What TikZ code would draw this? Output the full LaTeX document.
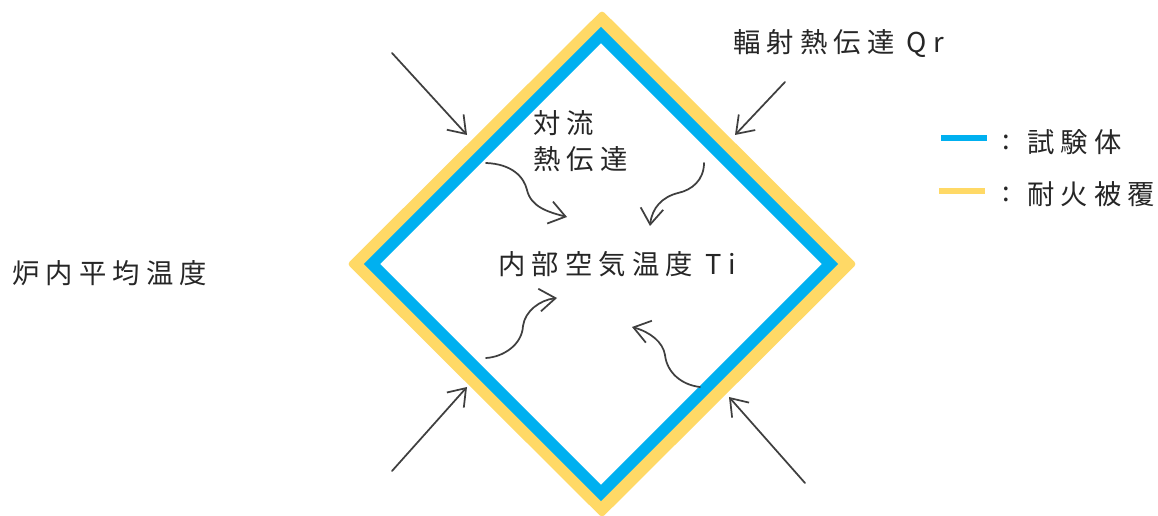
\documentclass[tikz,border=0pt]{standalone}
\usepackage{fontspec}
\usetikzlibrary{arrows.meta}
\newfontfamily\jp[LetterSpace=22.6]{Noto Sans CJK JP}
\definecolor{blueline}{HTML}{00B0F0}
\definecolor{yellowline}{HTML}{FFD966}
\definecolor{ink}{HTML}{3F3F3F}
\definecolor{textink}{HTML}{262626}
\tikzset{
  x=0.75pt,y=-0.75pt,
  label/.style={font=\jp\fontsize{20.5pt}{24pt}\selectfont,text=textink,inner sep=0pt,anchor=west},
  heat/.style={draw=ink,line width=1.3pt,line cap=round,-{Straight Barb[length=12pt,width=17pt,line width=1.3pt]}},
  cover/.style={fill=yellowline,draw=yellowline,line width=5pt,line join=round},
  body/.style={fill=white,draw=blueline,line width=8.6pt,line join=miter},
}
\begin{document}
\begin{tikzpicture}
\useasboundingbox (0,0) rectangle (1158,516);
\fill[white] (0,0) rectangle (1158,516);
% diamonds
\path[cover] (602,15) -- (852,264) -- (602,513) -- (352,264) -- cycle;
\path[body] (601,35) -- (830,264) -- (601,493) -- (372,264) -- cycle;
% end points
\coordinate (r1s) at (392,53);  \coordinate (r1e) at (467,135);
\coordinate (r2s) at (785,82);  \coordinate (r2e) at (735,135);
\coordinate (r3s) at (392,471); \coordinate (r3e) at (467,387);
\coordinate (r4s) at (805,483); \coordinate (r4e) at (729,397);
\coordinate (c1s) at (486,163); \coordinate (c1e) at (567,217);
\coordinate (c2s) at (704,163); \coordinate (c2e) at (650,226);
\coordinate (c3s) at (486,358); \coordinate (c3e) at (557,298);
\coordinate (c4s) at (700,387); \coordinate (c4e) at (632,327);
% straight arrows
\draw[heat] (r1s) -- (r1e);
\draw[heat] (r2s) -- (r2e);
\draw[heat] (r3s) -- (r3e);
\draw[heat] (r4s) -- (r4e);
% wavy arrows
\draw[heat] (c1s) .. controls (512,164) and (524,177) .. (527,190) .. controls (531,207) and (548,212) .. (c1e);
\draw[heat] (c2s) .. controls (704,180) and (692,190) .. (678,193) .. controls (662,197) and (652,208) .. (c2e);
\draw[heat] (c3s) .. controls (503,357) and (522,345) .. (523,326) .. controls (525,311) and (540,300) .. (c3e);
\draw[heat] (c4s) .. controls (682,385) and (667,373) .. (665,355) .. controls (663,342) and (650,332) .. (c4e);
% labels
\node[label] (furnace) at (12,273) {炉内平均温度};
\node[label] (radiation) at (733,44) {輻射熱伝達 Qr};
\node[label] (conv1) at (533,123) {対流};
\node[label] (conv2) at (533,159) {熱伝達};
\node[label] (inner) at (498,264) {内部空気温度 Ti};
% legend
\coordinate (l1s) at (941,138); \coordinate (l1e) at (987,138);
\coordinate (l2s) at (939,191); \coordinate (l2e) at (985,191);
\draw[blueline,line width=4.5pt] (l1s) -- (l1e);
\draw[yellowline,line width=4.5pt] (l2s) -- (l2e);
\node[label] (leg1c) at (1002,142) {:};
\node[label] (leg1) at (1027,142) {試験体};
\node[label] (leg2c) at (1002,194) {:};
\node[label] (leg2) at (1027,194) {耐火被覆};
\end{tikzpicture}
\end{document}
